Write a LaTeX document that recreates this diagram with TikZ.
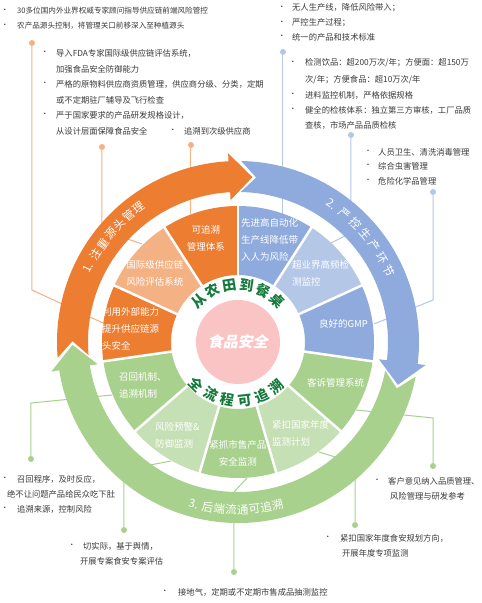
\documentclass[tikz,border=0pt]{standalone}
\usepackage{fontspec}
\setmainfont{Noto Sans CJK SC}
\definecolor{orgD}{HTML}{ED7D31}
\definecolor{orgL}{HTML}{F4B183}
\definecolor{bluD}{HTML}{8FAADC}
\definecolor{bluL}{HTML}{B4C7E7}
\definecolor{grnD}{HTML}{A9D18E}
\definecolor{grnL}{HTML}{C5E0B4}
\definecolor{pinkC}{HTML}{FBC4C4}
\definecolor{dgreen}{HTML}{157A3C}
\definecolor{txt}{HTML}{3A3A3A}
\newcommand{\sector}[3]{\fill[#1] (#2:67) arc[start angle=#2, end angle=#3, radius=67] -- (#3:136) arc[start angle=#3, end angle=#2, radius=136] -- cycle;}
\newcommand{\bandarrow}[3]{\fill[#1] (#2:181) arc[start angle=#2, end angle=#3, radius=181] -- ({#3}:189) -- ({#3-8}:165.5) -- ({#3}:142) -- ({#3}:150) arc[start angle=#3, end angle=#2, radius=150] -- ({#2-5.3}:165.5) -- cycle;}
\newcommand{\cl}[4]{\node[ctext] (#1) at (#2,#3) {#4};}
\newcommand{\bl}[3]{\node[bul] (#1) at (#2,#3) {•};}
\begin{document}
\begin{tikzpicture}[x=1pt,y=1pt,
  ctext/.style={font=\fontsize{8.3}{10}\selectfont, text=txt, inner sep=0pt, anchor=west},
  small/.style={font=\fontsize{7.6}{10}\selectfont},
  bul/.style={font=\fontsize{7}{10}\selectfont, text=txt, inner sep=0pt},
  wtext/.style={font=\fontsize{9.5}{17}\selectfont, text=white, inner sep=0pt},
  bandtxt/.style={font=\fontsize{11.5}{12}\selectfont, text=white, inner sep=0pt},
  ctrtxt/.style={font=\fontsize{14}{14}\selectfont\bfseries, text=dgreen, inner sep=0pt},
  dotO/.style={circle, fill=orgL, inner sep=0pt, minimum size=6pt},
  dotB/.style={circle, fill=bluL, inner sep=0pt, minimum size=6pt},
  dotG/.style={circle, fill=grnD, inner sep=0pt, minimum size=6pt},
  leadO/.style={draw=orgL, line width=1pt},
  leadB/.style={draw=bluL, line width=1pt},
  leadG/.style={draw=grnD, line width=1pt},
  sep/.style={draw=white, line width=2.5pt}]
\begin{scope}[shift={(-238,342)}, y=-1pt]
\useasboundingbox (0,0) rectangle (482,603);
\fill[white] (0,0) rectangle (482,603);
% leader lines
\node[dotO] (d1) at (32,43) {};
\coordinate (b1) at (32,290); \coordinate (e1) at (103,323);
\draw[leadO] (d1) -- (b1) -- (e1);
\node[dotO] (d2) at (102,147) {};
\coordinate (b2) at (102,230); \coordinate (e2) at (142,244);
\draw[leadO] (d2) -- (b2) -- (e2);
\node[dotO] (d3) at (191,145) {};
\coordinate (e3) at (191,214);
\draw[leadO] (d3) -- (e3);
\node[dotB] (d4) at (283,52) {};
\coordinate (e4) at (283,214);
\draw[leadB] (d4) -- (e4);
\node[dotB] (d5) at (351,135) {};
\coordinate (b5) at (351,233); \coordinate (e5) at (331,243);
\draw[leadB] (d5) -- (b5) -- (e5);
\node[dotB] (d6) at (433,192) {};
\coordinate (b6) at (433,300); \coordinate (e6) at (374,324);
\draw[leadB] (d6) -- (b6) -- (e6);
\node[dotG] (d7) at (31,459) {};
\coordinate (b7) at (31,403); \coordinate (e7) at (112,395);
\draw[leadG] (d7) -- (b7) -- (e7);
\node[dotG] (d8) at (124,530) {};
\coordinate (b8) at (124,470); \coordinate (e8) at (171,461);
\draw[leadG] (d8) -- (b8) -- (e8);
\node[dotG] (d9) at (234,572) {};
\coordinate (b9) at (234,492); \coordinate (e9) at (247,478);
\draw[leadG] (d9) -- (b9) -- (e9);
\node[dotG] (d10) at (355,525) {};
\coordinate (b10) at (355,463); \coordinate (e10) at (319,452);
\draw[leadG] (d10) -- (b10) -- (e10);
\node[dotG] (d11) at (433,466) {};
\coordinate (b11) at (433,418); \coordinate (e11) at (356,410);
\draw[leadG] (d11) -- (b11) -- (e11);
\end{scope}
% outer arrow bands
\bandarrow{orgD}{185}{93}
\bandarrow{bluD}{89}{-7}
\bandarrow{grnD}{-11}{-171}
% sectors
\sector{orgD}{90}{122.73}
\sector{orgL}{122.73}{155.45}
\sector{orgD}{155.45}{188.18}
\sector{grnD}{188.18}{220.91}
\sector{grnL}{220.91}{253.64}
\sector{grnD}{253.64}{286.36}
\sector{grnL}{286.36}{319.09}
\sector{grnD}{319.09}{351.82}
\sector{bluD}{-8.18}{24.55}
\sector{bluL}{24.55}{57.27}
\sector{bluD}{57.27}{90}
\foreach \a in {90,122.73,155.45,188.18,220.91,253.64,286.36,319.09,351.82,24.55,57.27}
  \draw[sep] (\a:65) -- (\a:138);
% centre
\fill[pinkC] (0,0) circle (42);
\node[font=\fontsize{15}{15}\selectfont\bfseries, text=white, inner sep=0pt] (core) at (0,0) {\addfontfeature{FakeSlant=0.2}食品安全};
\foreach \c/\a [count=\i] in {从/133.5,农/116.1,田/98.7,到/81.3,餐/63.9,桌/46.5}
  \node[ctrtxt, rotate=\a-90] (ta\i) at (\a:57) {\c};
\foreach \c/\a [count=\i] in {全/225.5,流/242.5,程/259.5,可/276.5,追/293.5,溯/310.5}
  \node[ctrtxt, rotate=\a+90] (tb\i) at (\a:59) {\c};
% band labels
\foreach \c/\a [count=\i] in {1./153.6,注/148.4,重/144.0,源/139.6,头/135.2,管/130.8,理/126.4}
  \node[bandtxt, rotate=\a-90] (bo\i) at (\a:167) {\c};
\foreach \c/\a [count=\i] in {2./55.8,严/50.2,控/45.2,生/40.2,产/35.2,环/30.2,节/25.2}
  \node[bandtxt, rotate=\a-90] (bb\i) at (\a:167) {\c};
\foreach \c/\a [count=\i] in {3./254.7,后/259.6,端/263.6,流/267.6,通/271.6,可/275.6,追/279.6,溯/283.6}
  \node[bandtxt, rotate=\a+90] (bg\i) at (\a:168) {\c};
\begin{scope}[shift={(-238,342)}, y=-1pt]
% sector texts
\node[wtext, align=center] (w1) at (206,238) {可追溯\\管理体系};
\node[wtext, align=center] (w2) at (155,273) {国际级供应链\\风险评估系统};
\node[wtext, align=left, anchor=west] (w3) at (102,329) {利用外部能力\\提升供应链源\\头安全};
\node[wtext, align=left, anchor=west] (w4) at (241,240) {先进高自动化\\生产线降低带\\入人为风险};
\node[wtext, align=left, anchor=west] (w5) at (292,273.5) {超业界高频检\\测监控};
\node[wtext, align=left, anchor=west] (w6) at (319,324) {良好的GMP};
\node[wtext, align=left, anchor=west] (w7) at (119,385.5) {召回机制、\\追溯机制};
\node[wtext, align=left, anchor=west] (w8) at (155,435) {风险预警\&\\防御监测};
\node[wtext, align=center] (w9) at (238,453.5) {紧抓市售产品\\安全监测};
\node[wtext, align=left, anchor=west] (w10) at (272,433.5) {紧扣国家年度\\监测计划};
\node[wtext, align=left, anchor=west] (w11) at (307,383) {客诉管理系统};
% callouts orange
\bl{oa1}{5}{11} \node[ctext, small] (ta1x) at (17,11) {30多位国内外业界权威专家顾问指导供应链前端风险管控};
\bl{oa2}{5}{26} \node[ctext, small] (ta2x) at (17,26) {农产品源头控制，将管理关口前移深入至种植源头};
\bl{ob1}{45}{53} \cl{tb1x}{56}{53}{导入FDA专家国际级供应链评估系统，}
\cl{tb2x}{56}{69}{加强食品安全防御能力}
\bl{ob2}{45}{84} \cl{tb3x}{56}{84}{严格的原物料供应商资质管理，供应商分级、分类，定期}
\cl{tb4x}{56}{100}{或不定期驻厂辅导及飞行检查}
\bl{ob3}{45}{115} \cl{tb5x}{56}{115}{严于国家要求的产品研发规格设计，}
\cl{tb6x}{56}{131}{从设计层面保障食品安全}
\bl{oc1}{173}{131} \cl{tc1x}{184}{131}{追溯到次级供应商}
% callouts blue
\bl{ba1}{282}{8} \cl{ua1}{292}{8}{无人生产线，降低风险带入；}
\bl{ba2}{282}{23} \cl{ua2}{292}{23}{严控生产过程；}
\bl{ba3}{282}{37} \cl{ua3}{292}{37}{统一的产品和技术标准}
\bl{bb1}{293}{63} \cl{ub1}{305}{63}{检测饮品：超200万次/年；方便面：超150万}
\cl{ub2}{305}{80}{次/年；方便食品：超10万次/年}
\bl{bb2}{293}{95} \cl{ub3}{305}{95}{进料监控机制，严格依据规格}
\bl{bb3}{293}{110} \cl{ub4}{305}{110}{健全的检核体系：独立第三方审核，工厂品质}
\cl{ub5}{305}{125}{查核，市场产品品质检核}
\bl{bc1}{368}{152} \cl{uc1}{378}{152}{人员卫生、清洗消毒管理}
\bl{bc2}{368}{166} \cl{uc2}{378}{166}{综合虫害管理}
\bl{bc3}{368}{181} \cl{uc3}{378}{181}{危险化学品管理}
% callouts green
\bl{ga1}{5}{479} \cl{va1}{17}{479}{召回程序，及时反应，}
\cl{va2}{7}{494}{绝不让问题产品给民众吃下肚}
\bl{ga2}{5}{509} \cl{va3}{17}{509}{追溯来源，控制风险}
\bl{gb1}{72}{546} \cl{vb1}{83}{546}{切实际，基于舆情，}
\cl{vb2}{80}{561}{开展专案食安专案评估}
\bl{gc1}{165}{592} \cl{vc1}{178}{592}{接地气，定期或不定期市售成品抽测监控}
\bl{gd1}{328}{538} \cl{vd1}{340}{538}{紧扣国家年度食安规划方向，}
\cl{vd2}{342}{553}{开展年度专项监测}
\bl{ge1}{377}{481} \cl{ve1}{388}{481}{客户意见纳入品质管理、}
\cl{ve2}{390}{496}{风险管理与研发参考}
\end{scope}
\end{tikzpicture}
\end{document}
